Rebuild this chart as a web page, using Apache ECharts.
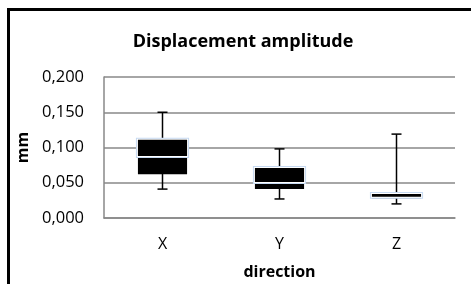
<!DOCTYPE html>
<html style="height: 100%">
    <head>
        <meta charset="utf-8">
    </head>
    <body style="height: 100%; margin: 0">
        <div id="container" style="height: 284px; width: 471px;"></div>

        <script type="text/javascript" src="https://cdn.jsdelivr.net/npm/echarts@6/dist/echarts.min.js"></script>
        <script type="text/javascript">
// box values per direction: min, q1, median, q3, max (mm)
var directions = ['X', 'Y', 'Z'];
var whiskerMin = [0.041, 0.027, 0.020];
var boxLow     = [0.062, 0.041, 0.028];
var boxMid     = [0.088, 0.051, 0.030];
var boxHigh    = [0.111, 0.071, 0.034];
var whiskerMax = [0.150, 0.098, 0.119];

var dom = document.getElementById("container");
var myChart = echarts.init(dom);

var FONT = '"Open Sans", sans-serif';

var boxData = directions.map(function (d, i) {
    return [i, whiskerMin[i], boxLow[i], boxMid[i], boxHigh[i], whiskerMax[i]];
});

function renderBox(params, api) {
    var i = api.value(0);
    var pMin = api.coord([i, api.value(1)]);
    var pLow = api.coord([i, api.value(2)]);
    var pMid = api.coord([i, api.value(3)]);
    var pHigh = api.coord([i, api.value(4)]);
    var pMax = api.coord([i, api.value(5)]);
    var bw = api.size([1, 0])[0] * 0.42;
    var x = pMid[0];
    var cap = 5;
    return {
        type: 'group',
        children: [
            {type: 'line', shape: {x1: x, y1: pMin[1], x2: x, y2: pMax[1]},
             style: {stroke: '#000', lineWidth: 1.5}},
            {type: 'line', shape: {x1: x - cap, y1: pMin[1], x2: x + cap, y2: pMin[1]},
             style: {stroke: '#000', lineWidth: 1.5}},
            {type: 'line', shape: {x1: x - cap, y1: pMax[1], x2: x + cap, y2: pMax[1]},
             style: {stroke: '#000', lineWidth: 1.5}},
            // lower part
            {type: 'rect', shape: {x: x - bw / 2, y: pMid[1], width: bw, height: pLow[1] - pMid[1]},
             style: {fill: '#000'}},
            // upper part with light blue outline
            {type: 'rect', shape: {x: x - bw / 2 - 2, y: pHigh[1] - 2, width: bw + 4, height: pMid[1] - pHigh[1] + 4},
             style: {fill: '#c6d9f1'}},
            {type: 'rect', shape: {x: x - bw / 2 - 1, y: pHigh[1] - 1, width: bw + 2, height: pMid[1] - pHigh[1] + 2},
             style: {fill: '#fff'}},
            {type: 'rect', shape: {x: x - bw / 2, y: pHigh[1], width: bw, height: pMid[1] - pHigh[1]},
             style: {fill: '#000'}}
        ]
    };
}

var option = {
    animation: false,
    title: {
        text: 'Displacement amplitude',
        left: 238,
        textAlign: 'center',
        top: 28,
        textStyle: {fontFamily: FONT, fontSize: 18, fontWeight: 'bold', color: '#000'}
    },
    graphic: [
        {type: 'rect', shape: {x: 8.5, y: 9.5, width: 500, height: 320},
         style: {fill: 'none', stroke: '#000', lineWidth: 3}}
    ],
    grid: {left: 104, right: 16, top: 77, bottom: 66},
    xAxis: {
        type: 'category',
        data: directions,
        name: 'direction',
        nameLocation: 'middle',
        nameGap: 46,
        nameTextStyle: {fontFamily: FONT, fontSize: 16, fontWeight: 'bold', color: '#000'},
        axisLine: {lineStyle: {color: '#888', width: 1.5}},
        axisTick: {show: false},
        axisLabel: {fontFamily: FONT, fontSize: 16, color: '#000', margin: 18}
    },
    yAxis: {
        type: 'value',
        min: 0,
        max: 0.2,
        interval: 0.05,
        name: 'mm',
        nameLocation: 'middle',
        nameGap: 72,
        nameTextStyle: {fontFamily: FONT, fontSize: 16, fontWeight: 'bold', color: '#000'},
        axisLine: {show: true, lineStyle: {color: '#888', width: 1.5}},
        axisTick: {show: false},
        splitLine: {lineStyle: {color: '#888', width: 1.5}},
        axisLabel: {
            fontFamily: FONT, fontSize: 16.5, color: '#000', margin: 20,
            formatter: function (v) { return v.toFixed(3).replace('.', ','); }
        }
    },
    series: [
        {
            type: 'custom',
            renderItem: renderBox,
            encode: {x: 0, y: [1, 2, 3, 4, 5]},
            data: boxData,
            z: 10
        }
    ]
};

myChart.setOption(option);
        </script>
    </body>
</html>
